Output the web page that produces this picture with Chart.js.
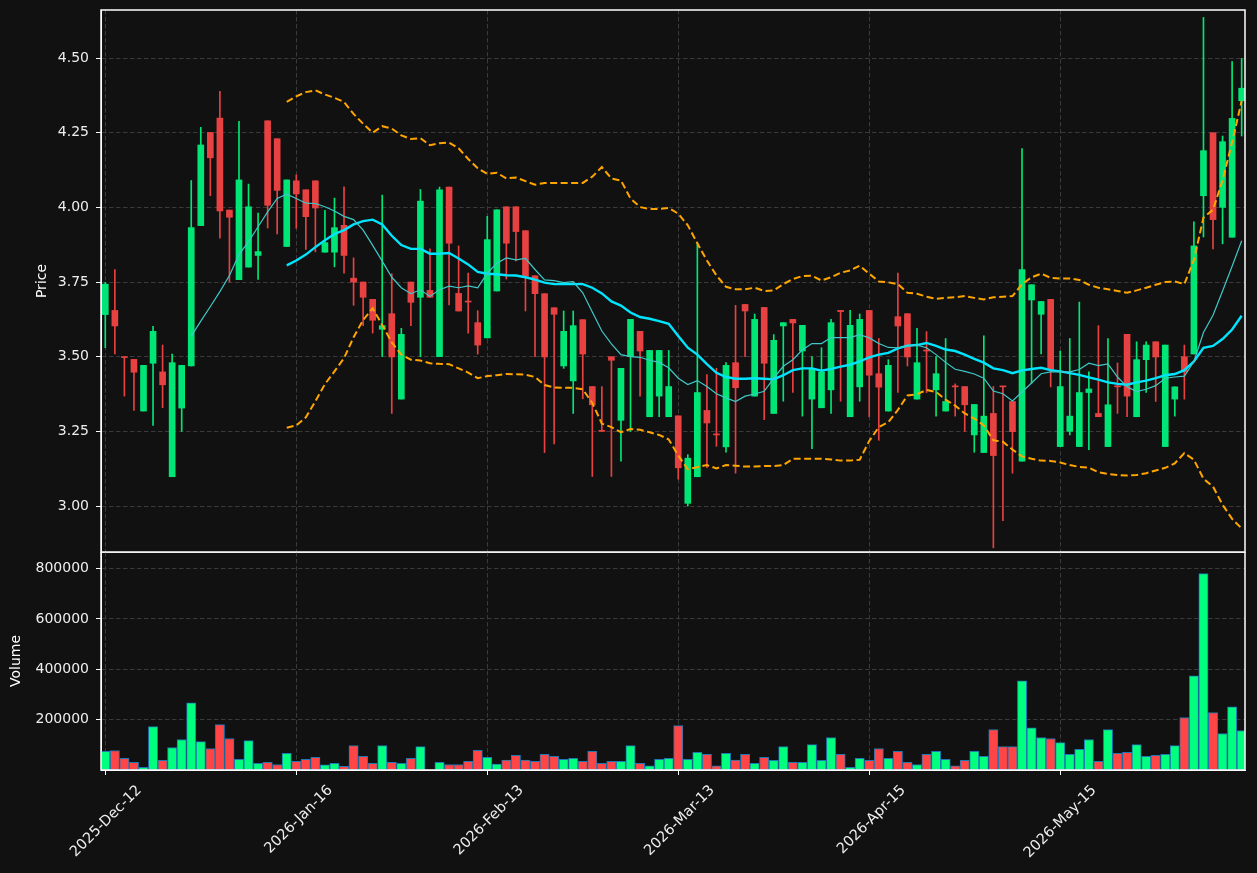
<!DOCTYPE html>
<html lang="en">
<head>
<meta charset="UTF-8">
<title>Price and Volume</title>
<script src="https://cdn.jsdelivr.net/npm/chart.js"></script>
<style>
  html, body { margin: 0; padding: 0; background: #111111; }
  #wrap { position: relative; width: 1257px; height: 873px; }
  #price { position: absolute; left: 0; top: 0; }
  #volume { position: absolute; left: 0; top: 552px; }
</style>
</head>
<body>
<div id="wrap">
  <canvas id="price" width="1257" height="553"></canvas>
  <canvas id="volume" width="1257" height="321"></canvas>
</div>
<script>
// x ticks (candle index) and their date labels
const tickIdx = [0, 20, 40, 60, 80, 100];
const tickLabels = ['2025-Dec-12', '2026-Jan-16', '2026-Feb-13', '2026-Mar-13', '2026-Apr-15', '2026-May-15'];
const priceTicks = [3.00, 3.25, 3.50, 3.75, 4.00, 4.25, 4.50];
const volumeTicks = [200000, 400000, 600000, 800000];

// OHLC
const opens = [
  3.641, 3.655, 3.500, 3.491, 3.318, 3.478, 3.449, 3.098, 3.328, 3.469,
  3.939, 4.251, 4.299, 3.991, 3.758, 3.800, 3.839, 4.290, 4.230, 3.869,
  4.089, 4.059, 4.089, 3.850, 3.850, 3.940, 3.763, 3.750, 3.692, 3.592,
  3.644, 3.358, 3.750, 3.699, 3.722, 3.500, 4.068, 3.712, 3.685, 3.614,
  3.563, 3.720, 4.002, 4.002, 3.922, 3.771, 3.711, 3.664, 3.469, 3.419,
  3.624, 3.400, 3.252, 3.500, 3.287, 3.500, 3.585, 3.299, 3.368, 3.299,
  3.302, 3.009, 3.098, 3.320, 3.240, 3.198, 3.480, 3.675, 3.368, 3.665,
  3.310, 3.603, 3.625, 3.519, 3.358, 3.329, 3.389, 3.655, 3.299, 3.399,
  3.655, 3.443, 3.318, 3.634, 3.644, 3.358, 3.521, 3.389, 3.318, 3.401,
  3.400, 3.238, 3.179, 3.310, 3.401, 3.350, 3.150, 3.690, 3.642, 3.692,
  3.199, 3.250, 3.199, 3.380, 3.310, 3.199, 3.401, 3.575, 3.299, 3.490,
  3.550, 3.199, 3.358, 3.500, 3.509, 4.039, 4.250, 4.000, 3.900, 4.357
];
const highs = [
  3.749, 3.792, 3.500, 3.491, 3.471, 3.602, 3.539, 3.509, 3.471, 4.090,
  4.268, 4.251, 4.389, 3.991, 4.288, 4.078, 3.981, 4.290, 4.230, 4.092,
  4.109, 4.059, 4.089, 3.990, 4.031, 4.069, 3.831, 3.750, 3.692, 4.041,
  3.778, 3.595, 3.750, 4.060, 3.861, 4.068, 4.068, 3.871, 3.780, 3.654,
  3.970, 3.992, 4.002, 4.002, 3.922, 3.771, 3.711, 3.664, 3.653, 3.653,
  3.624, 3.400, 3.400, 3.500, 3.461, 3.625, 3.585, 3.521, 3.521, 3.521,
  3.302, 3.172, 3.879, 3.440, 3.461, 3.480, 3.672, 3.675, 3.643, 3.665,
  3.574, 3.614, 3.625, 3.605, 3.500, 3.530, 3.625, 3.655, 3.655, 3.643,
  3.655, 3.561, 3.490, 3.780, 3.644, 3.595, 3.584, 3.500, 3.561, 3.409,
  3.400, 3.340, 3.570, 3.400, 3.401, 3.350, 4.197, 3.741, 3.685, 3.692,
  3.519, 3.561, 3.683, 3.449, 3.604, 3.561, 3.479, 3.575, 3.550, 3.550,
  3.550, 3.539, 3.399, 3.539, 3.952, 4.636, 4.250, 4.239, 4.488, 4.499
];
const lows = [
  3.530, 3.509, 3.368, 3.320, 3.318, 3.270, 3.329, 3.098, 3.250, 3.469,
  3.939, 4.039, 3.897, 3.750, 3.758, 3.800, 3.759, 3.931, 3.911, 3.869,
  3.930, 3.859, 3.851, 3.850, 3.801, 3.780, 3.672, 3.604, 3.579, 3.500,
  3.310, 3.358, 3.604, 3.500, 3.699, 3.500, 3.673, 3.653, 3.579, 3.509,
  3.563, 3.720, 3.760, 3.821, 3.653, 3.500, 3.179, 3.208, 3.461, 3.310,
  3.359, 3.099, 3.250, 3.099, 3.150, 3.250, 3.368, 3.299, 3.299, 3.299,
  3.090, 3.000, 3.098, 3.128, 3.200, 3.180, 3.110, 3.500, 3.368, 3.289,
  3.310, 3.351, 3.380, 3.301, 3.192, 3.329, 3.310, 3.351, 3.299, 3.351,
  3.299, 3.220, 3.318, 3.380, 3.469, 3.358, 3.380, 3.301, 3.318, 3.301,
  3.250, 3.180, 3.179, 2.860, 2.951, 3.110, 3.150, 3.411, 3.509, 3.399,
  3.199, 3.238, 3.199, 3.189, 3.299, 3.199, 3.310, 3.299, 3.299, 3.380,
  3.350, 3.199, 3.301, 3.358, 3.509, 3.901, 3.861, 3.878, 3.900, 4.239
];
const closes = [
  3.743, 3.603, 3.497, 3.448, 3.471, 3.585, 3.406, 3.480, 3.471, 3.932,
  4.209, 4.166, 3.988, 3.967, 4.092, 4.002, 3.852, 4.007, 4.057, 4.092,
  4.045, 3.969, 3.998, 3.882, 3.932, 3.839, 3.750, 3.699, 3.622, 3.604,
  3.499, 3.575, 3.682, 4.021, 3.699, 4.059, 3.880, 3.653, 3.683, 3.539,
  3.892, 3.992, 3.880, 3.919, 3.769, 3.711, 3.499, 3.642, 3.585, 3.604,
  3.509, 3.339, 3.250, 3.488, 3.461, 3.625, 3.519, 3.521, 3.521, 3.400,
  3.128, 3.160, 3.380, 3.278, 3.238, 3.471, 3.396, 3.653, 3.625, 3.478,
  3.555, 3.614, 3.613, 3.605, 3.461, 3.449, 3.614, 3.651, 3.605, 3.625,
  3.438, 3.398, 3.471, 3.603, 3.499, 3.480, 3.519, 3.443, 3.350, 3.399,
  3.339, 3.340, 3.301, 3.169, 3.399, 3.249, 3.792, 3.741, 3.685, 3.457,
  3.400, 3.301, 3.380, 3.392, 3.299, 3.339, 3.399, 3.368, 3.490, 3.539,
  3.499, 3.539, 3.399, 3.449, 3.871, 4.190, 3.959, 4.220, 4.298, 4.399
];
const volumes = [
  73700, 77600, 46000, 30000, 10500, 172000, 38000, 89500, 121000, 267000,
  113000, 85500, 180000, 125000, 42000, 117000, 26000, 30000, 22000, 66000,
  34000, 42000, 50000, 21000, 26000, 14500, 97000, 54000, 26000, 97000,
  30000, 26000, 46000, 93000, 1000, 30000, 22000, 22000, 34000, 78000,
  50000, 24000, 39500, 58000, 39500, 34000, 62000, 54000, 42000, 46000,
  34000, 74000, 26000, 34000, 34000, 97000, 26000, 17000, 42000, 46000,
  176000, 42000, 70000, 62000, 17000, 66000, 39500, 62000, 26000, 50000,
  38000, 93000, 30000, 30000, 101000, 38000, 129000, 62000, 10500, 46000,
  38000, 85500, 46000, 74000, 30000, 22000, 62000, 74000, 42000, 17000,
  38000, 74000, 54000, 160500, 93000, 93000, 354000, 168000, 129000, 125000,
  109000, 62000, 82000, 121000, 34000, 160500, 66000, 70000, 101000, 54000,
  58000, 62000, 97000, 208000, 374000, 780000, 228000, 145000, 251000, 157000
];

// overlay lines (null where not drawn)
const maShort = [
  null, null, null, null, null, null, null, null, null, 3.569,
  3.619, 3.668, 3.718, 3.772, 3.842, 3.885, 3.935, 3.985, 4.030, 4.044,
  4.030, 4.014, 4.013, 4.002, 3.988, 3.970, 3.959, 3.924, 3.873, 3.820,
  3.766, 3.731, 3.711, 3.724, 3.702, 3.724, 3.736, 3.731, 3.737, 3.731,
  3.780, 3.813, 3.831, 3.824, 3.829, 3.792, 3.757, 3.755, 3.748, 3.751,
  3.714, 3.650, 3.586, 3.543, 3.507, 3.500, 3.498, 3.488, 3.481, 3.463,
  3.428, 3.407, 3.420, 3.400, 3.376, 3.362, 3.350, 3.368, 3.375, 3.384,
  3.428, 3.468, 3.490, 3.523, 3.544, 3.544, 3.564, 3.564, 3.564, 3.574,
  3.563, 3.544, 3.531, 3.530, 3.535, 3.539, 3.530, 3.507, 3.481, 3.458,
  3.451, 3.442, 3.428, 3.385, 3.376, 3.352, 3.382, 3.412, 3.443, 3.449,
  3.449, 3.449, 3.457, 3.478, 3.470, 3.476, 3.432, 3.399, 3.383, 3.391,
  3.403, 3.428, 3.432, 3.435, 3.484, 3.581, 3.639, 3.720, 3.803, 3.888
];
const maLong = [
  null, null, null, null, null, null, null, null, null, null,
  null, null, null, null, null, null, null, null, null, 3.806,
  3.822, 3.842, 3.867, 3.890, 3.911, 3.924, 3.943, 3.954, 3.959, 3.943,
  3.905, 3.874, 3.861, 3.861, 3.845, 3.845, 3.847, 3.829, 3.809, 3.784,
  3.778, 3.776, 3.773, 3.772, 3.766, 3.758, 3.748, 3.743, 3.743, 3.743,
  3.743, 3.731, 3.712, 3.685, 3.671, 3.648, 3.633, 3.627, 3.619, 3.610,
  3.569, 3.530, 3.507, 3.475, 3.446, 3.432, 3.426, 3.426, 3.428, 3.426,
  3.424, 3.438, 3.455, 3.461, 3.461, 3.453, 3.459, 3.467, 3.473, 3.484,
  3.498, 3.507, 3.513, 3.528, 3.537, 3.539, 3.546, 3.536, 3.524, 3.519,
  3.507, 3.493, 3.480, 3.461, 3.455, 3.445, 3.454, 3.459, 3.463, 3.455,
  3.451, 3.445, 3.439, 3.431, 3.423, 3.414, 3.409, 3.406, 3.414, 3.420,
  3.428, 3.438, 3.442, 3.455, 3.484, 3.530, 3.536, 3.559, 3.591, 3.637
];
const bandUpper = [
  null, null, null, null, null, null, null, null, null, null,
  null, null, null, null, null, null, null, null, null, 4.353,
  4.372, 4.386, 4.392, 4.378, 4.367, 4.353, 4.313, 4.280, 4.250, 4.272,
  4.264, 4.241, 4.229, 4.232, 4.208, 4.215, 4.217, 4.198, 4.162, 4.131,
  4.112, 4.116, 4.097, 4.100, 4.088, 4.076, 4.082, 4.082, 4.082, 4.082,
  4.082, 4.103, 4.135, 4.097, 4.090, 4.030, 4.001, 3.995, 3.995, 3.998,
  3.979, 3.940, 3.880, 3.822, 3.772, 3.734, 3.726, 3.726, 3.731, 3.720,
  3.722, 3.743, 3.760, 3.770, 3.771, 3.755, 3.766, 3.781, 3.789, 3.805,
  3.778, 3.752, 3.749, 3.743, 3.714, 3.711, 3.701, 3.694, 3.697, 3.699,
  3.703, 3.697, 3.692, 3.699, 3.701, 3.703, 3.743, 3.766, 3.778, 3.764,
  3.762, 3.762, 3.757, 3.741, 3.731, 3.726, 3.720, 3.714, 3.722, 3.731,
  3.741, 3.750, 3.752, 3.743, 3.824, 3.966, 3.992, 4.091, 4.218, 4.357
];
const bandLower = [
  null, null, null, null, null, null, null, null, null, null,
  null, null, null, null, null, null, null, null, null, 3.262,
  3.270, 3.297, 3.351, 3.408, 3.451, 3.495, 3.565, 3.623, 3.662, 3.606,
  3.548, 3.507, 3.490, 3.487, 3.478, 3.476, 3.475, 3.461, 3.447, 3.428,
  3.435, 3.438, 3.442, 3.441, 3.440, 3.432, 3.405, 3.397, 3.396, 3.396,
  3.391, 3.345, 3.276, 3.264, 3.247, 3.258, 3.255, 3.247, 3.238, 3.223,
  3.169, 3.123, 3.130, 3.137, 3.126, 3.137, 3.135, 3.132, 3.132, 3.134,
  3.134, 3.137, 3.158, 3.158, 3.158, 3.158, 3.156, 3.152, 3.152, 3.155,
  3.218, 3.264, 3.281, 3.322, 3.370, 3.374, 3.389, 3.382, 3.356, 3.336,
  3.310, 3.293, 3.270, 3.220, 3.215, 3.189, 3.166, 3.158, 3.152, 3.151,
  3.146, 3.137, 3.131, 3.128, 3.113, 3.107, 3.104, 3.102, 3.104, 3.110,
  3.119, 3.128, 3.143, 3.177, 3.155, 3.091, 3.065, 3.004, 2.957, 2.925
];

Chart.defaults.font.family = "'DejaVu Sans', sans-serif";
Chart.defaults.font.size = 14;
Chart.defaults.color = '#eeeeee';

const gridColor = '#3a3a3a';
const candleUp = '#00e676', candleDown = '#e84142';
const volUp = '#00ff7f', volDown = '#ff4545';

const isUp = closes.map((c, i) => c >= opens[i]);
const candleColors = isUp.map(u => u ? candleUp : candleDown);
const volColors = isUp.map(u => u ? volUp : volDown);
const pts = arr => arr.map((v, i) => ({ x: i, y: v }));

// white box around each panel
const frame = {
  id: 'frame',
  afterDraw(chart) {
    const a = chart.chartArea, ctx = chart.ctx;
    ctx.save();
    ctx.strokeStyle = '#ffffff';
    ctx.lineWidth = 1.5;
    ctx.strokeRect(a.left, a.top, a.right - a.left, a.bottom - a.top);
    ctx.restore();
  }
};

// keep the plot box where it is: no extra room for edge labels
function noPad(s) {
  s.paddingTop = 0; s.paddingBottom = 0; s.paddingLeft = 0; s.paddingRight = 0;
}

function xAxis(withLabels) {
  return {
    type: 'linear', min: -0.45, max: 119.35, offset: false,
    afterBuildTicks: s => { s.ticks = tickIdx.map(v => ({ value: v })); },
    afterFit: s => { s.height = withLabels ? 103 : 0; noPad(s); },
    grid: { color: gridColor, offset: false, drawTicks: withLabels, tickLength: 5, tickColor: '#ffffff' },
    border: { display: withLabels, color: '#ffffff', dash: [4.5, 2.5] },
    ticks: {
      display: withLabels, autoSkip: false, minRotation: 45, maxRotation: 45,
      labelOffset: 34, padding: 7, color: '#eeeeee', font: { size: 14.5 },
      callback: (v, i) => tickLabels[i]
    }
  };
}

new Chart(document.getElementById('price'), {
  type: 'bar',
  data: {
    datasets: [
      { type: 'line', data: pts(bandUpper), borderColor: '#ffa500', borderWidth: 2, borderDash: [7, 3.5], pointRadius: 0, order: 0 },
      { type: 'line', data: pts(bandLower), borderColor: '#ffa500', borderWidth: 2, borderDash: [7, 3.5], pointRadius: 0, order: 0 },
      { type: 'line', data: pts(maShort), borderColor: '#3fc9c9', borderWidth: 1.2, pointRadius: 0, order: 0 },
      { type: 'line', data: pts(maLong), borderColor: '#00e5ff', borderWidth: 2.4, pointRadius: 0, order: 0 },
      { data: opens.map((o, i) => ({ x: i, y: [o, closes[i]] })), backgroundColor: candleColors, barThickness: 6, minBarLength: 1, grouped: false, order: 1 },
      { data: lows.map((l, i) => ({ x: i, y: [l, highs[i]] })), backgroundColor: candleColors, barThickness: 1, grouped: false, order: 2 }
    ]
  },
  options: {
    responsive: false, animation: false, events: [],
    layout: { padding: { top: 10, right: 12, bottom: 1, left: 0 } },
    plugins: { legend: { display: false }, tooltip: { enabled: false } },
    scales: {
      x: xAxis(false),
      y: {
        min: 2.846, max: 4.661,
        afterBuildTicks: s => { s.ticks = priceTicks.map(v => ({ value: v })); },
        afterFit: s => { s.width = 101; noPad(s); },
        grid: { color: gridColor, tickLength: 5, tickColor: '#ffffff' },
        border: { color: '#ffffff', dash: [4.5, 2.5] },
        ticks: { color: '#eeeeee', padding: 7, callback: v => Number(v).toFixed(2) },
        title: { display: true, text: 'Price', color: '#ffffff', padding: { top: 34, bottom: 0 } }
      }
    }
  },
  plugins: [frame]
});

new Chart(document.getElementById('volume'), {
  type: 'bar',
  data: {
    datasets: [{
      data: pts(volumes), backgroundColor: volColors, borderColor: '#1f77b4',
      borderWidth: 1, borderSkipped: false, barThickness: 9.3, grouped: false
    }]
  },
  options: {
    responsive: false, animation: false, events: [],
    layout: { padding: { top: 0, right: 12, bottom: 0, left: 0 } },
    plugins: { legend: { display: false }, tooltip: { enabled: false } },
    scales: {
      x: xAxis(true),
      y: {
        min: 0, max: 866000,
        afterBuildTicks: s => { s.ticks = volumeTicks.map(v => ({ value: v })); },
        afterFit: s => { s.width = 101; noPad(s); },
        grid: { color: gridColor, tickLength: 5, tickColor: '#ffffff' },
        border: { color: '#ffffff', dash: [4.5, 2.5] },
        ticks: { color: '#eeeeee', padding: 7, callback: v => String(v) },
        title: { display: true, text: 'Volume', color: '#ffffff', padding: { top: 8, bottom: 0 } }
      }
    }
  },
  plugins: [frame]
});
</script>
</body>
</html>
